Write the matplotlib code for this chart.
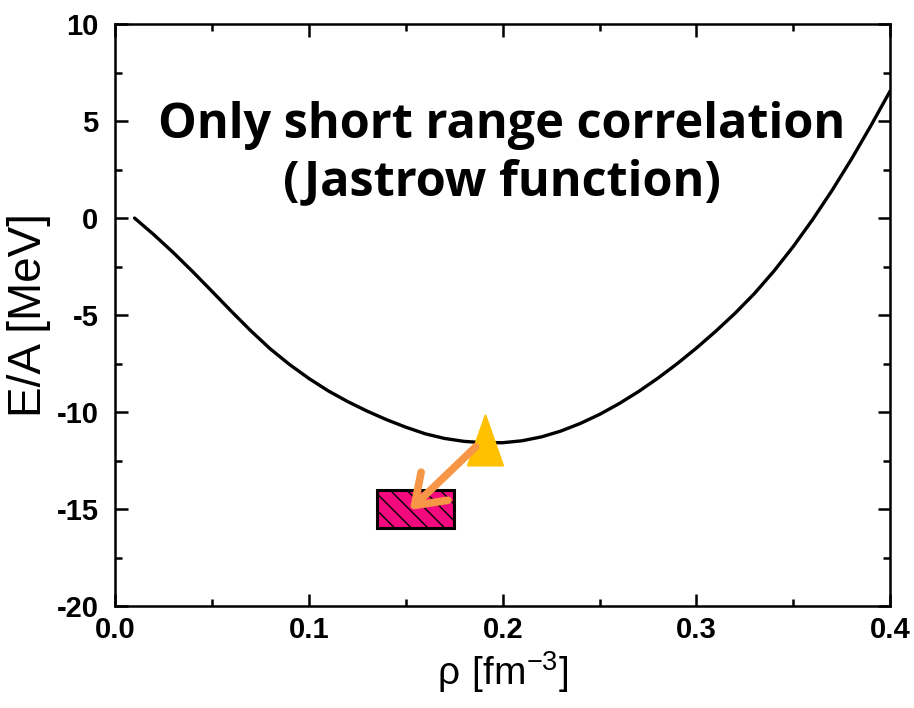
import matplotlib
matplotlib.use("Agg")
import matplotlib.pyplot as plt
from matplotlib.patches import Rectangle
from matplotlib.path import Path
from matplotlib.ticker import MultipleLocator, FormatStrFormatter

plt.rcParams["axes.unicode_minus"] = False

# energy per nucleon curve (Jastrow correlations only)
rho = [0.01, 0.02, 0.03, 0.04, 0.05, 0.06, 0.07, 0.08, 0.09, 0.10,
       0.11, 0.12, 0.13, 0.14, 0.15, 0.16, 0.17, 0.18, 0.19, 0.20,
       0.21, 0.22, 0.23, 0.24, 0.25, 0.26, 0.27, 0.28, 0.29, 0.30,
       0.31, 0.32, 0.33, 0.34, 0.35, 0.36, 0.37, 0.38, 0.39, 0.40]
energy = [0.0, -0.86, -1.78, -2.76, -3.78, -4.81, -5.81, -6.74, -7.55, -8.27,
          -8.91, -9.46, -9.95, -10.39, -10.78, -11.12, -11.36, -11.51, -11.58, -11.58,
          -11.48, -11.28, -10.98, -10.59, -10.12, -9.57, -8.95, -8.26, -7.51, -6.70,
          -5.83, -4.90, -3.88, -2.73, -1.46, -0.07, 1.43, 3.04, 4.76, 6.56]

# computed saturation point and empirical box
sat_rho, sat_e = 0.191, -11.44
emp_rho = (0.135, 0.175)
emp_e = (-16.0, -14.0)
arrow_from = (0.186, -11.8)
arrow_to = (0.152, -15.05)

fig = plt.figure(figsize=(9.14, 7.08), dpi=100)
ax = fig.add_axes([0.126, 0.144, 0.848, 0.822])

ax.plot(rho, energy, color="black", lw=2.4, solid_joinstyle="round",
        solid_capstyle="round", zorder=3)

ax.add_patch(Rectangle((emp_rho[0], emp_e[0]), emp_rho[1] - emp_rho[0],
                       emp_e[1] - emp_e[0], facecolor="#F5097F",
                       edgecolor="black", lw=2.2, hatch="\\\\", zorder=4))

tri = Path([(0, 1), (-0.7, -1), (0.7, -1), (0, 1)],
           [Path.MOVETO, Path.LINETO, Path.LINETO, Path.CLOSEPOLY])
ax.plot(sat_rho, sat_e, marker=tri, ms=36, color="#FFC000",
        mec="#FFC000", mew=1.5, zorder=5)

ax.annotate("", xy=arrow_to, xytext=arrow_from,
            arrowprops=dict(arrowstyle="->,head_length=1.0,head_width=0.7",
                            mutation_scale=20, color="#F79646", lw=5.5,
                            shrinkA=0, shrinkB=0, capstyle="round",
                            joinstyle="round"),
            zorder=6)

ax.text(0.1995, 3.3, "Only short range correlation\n(Jastrow function)",
        ha="center", va="center", fontsize=35, fontweight="bold",
        family="Open Sans", linespacing=1.2)

ax.set_xlim(0.0, 0.4)
ax.set_ylim(-20, 10)
ax.xaxis.set_major_locator(MultipleLocator(0.1))
ax.xaxis.set_minor_locator(MultipleLocator(0.05))
ax.yaxis.set_major_locator(MultipleLocator(5))
ax.yaxis.set_minor_locator(MultipleLocator(2.5))
ax.xaxis.set_major_formatter(FormatStrFormatter("%.1f"))

ax.tick_params(which="both", direction="in", top=True, right=True, width=1.8)
ax.tick_params(which="major", length=9)
ax.tick_params(which="minor", length=5)
ax.tick_params(axis="x", pad=7)
ax.tick_params(axis="y", pad=12)
for lab in ax.get_xticklabels() + ax.get_yticklabels():
    lab.set_fontweight("bold")
    lab.set_fontsize(21)
    lab.set_family("Liberation Sans")
for sp in ax.spines.values():
    sp.set_linewidth(1.8)

ax.set_xlabel(r"$\mathregular{\rho\ [fm^{-3}]}$", fontsize=28,
              family="Liberation Sans", labelpad=4)
ax.set_ylabel("E/A [MeV]", fontsize=33, family="Liberation Sans", labelpad=4)

fig.savefig("out.png", dpi=100)
